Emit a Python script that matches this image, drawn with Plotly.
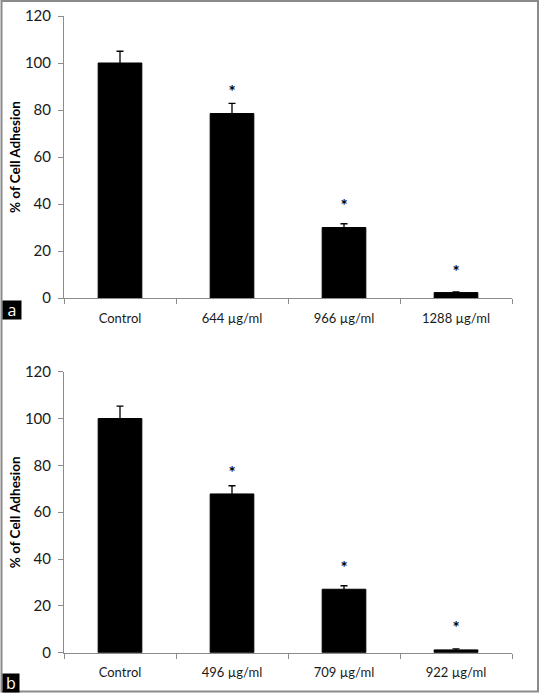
import plotly.graph_objects as go

# ---- data ----
cats_a = ["Control", "644 µg/ml", "966 µg/ml", "1288 µg/ml"]
vals_a = [100.0, 78.5, 30.0, 2.3]
err_a = [5.0, 4.3, 1.6, 0.3]
star_a = [None, 87.0, 38.3, 10.5]

cats_b = ["Control", "496 µg/ml", "709 µg/ml", "922 µg/ml"]
vals_b = [100.0, 67.8, 27.1, 1.2]
err_b = [5.3, 3.5, 1.5, 0.4]
star_b = [None, 76.2, 35.4, 9.7]

y_ticks = [0, 20, 40, 60, 80, 100, 120]
y_title = "% of Cell Adhesion"

W, H = 540, 693
FONT = "Lato, 'Open Sans', sans-serif"
AXIS_GRAY = "#8c8c8c"

fig = go.Figure()

def add_panel(cats, vals, errs, stars, xa, ya):
    fig.add_trace(go.Bar(
        x=cats, y=vals, width=0.39,
        marker=dict(color="black", line=dict(color="black", width=1)),
        error_y=dict(type="data", array=errs, symmetric=True,
                     color="black", thickness=1.3, width=3.5),
        xaxis=xa, yaxis=ya, showlegend=False, hoverinfo="skip"))
    sx = [c for c, s in zip(cats, stars) if s is not None]
    sy = [s for s in stars if s is not None]
    fig.add_trace(go.Scatter(
        x=sx, y=sy, mode="text", text=["<b>*</b>"] * len(sx),
        textfont=dict(family=FONT, size=17, color="black"),
        textposition="middle center",
        xaxis=xa, yaxis=ya, showlegend=False, hoverinfo="skip"))

add_panel(cats_a, vals_a, err_a, star_a, "x", "y")
add_panel(cats_b, vals_b, err_b, star_b, "x2", "y2")

x_dom = [64 / W, 512 / W]
ya_dom = [(H - 298) / H, (H - 16) / H]
yb_dom = [(H - 652.7) / H, (H - 371.7) / H]

xcommon = dict(domain=x_dom, range=[-0.5, 3.5], showline=True, linecolor=AXIS_GRAY,
               linewidth=1, ticks="outside", tickson="boundaries", ticklen=5,
               tickcolor=AXIS_GRAY, showgrid=False, zeroline=False, ticklabelstandoff=8,
               tickfont=dict(family=FONT, size=13, color="#1a1a1a"), automargin=False)
ycommon = dict(range=[0, 120], tickvals=y_ticks, showline=True, linecolor=AXIS_GRAY,
               linewidth=1, ticks="outside", ticklen=5, tickcolor=AXIS_GRAY,
               showgrid=False, zeroline=False, ticklabelstandoff=4, automargin=False,
               tickfont=dict(family=FONT, size=15, color="#1a1a1a"))

fig.update_layout(
    width=W, height=H, margin=dict(l=0, r=0, t=0, b=0, autoexpand=False),
    paper_bgcolor="white", plot_bgcolor="white",
    xaxis=dict(anchor="y", **xcommon),
    yaxis=dict(domain=ya_dom, anchor="x", **ycommon),
    xaxis2=dict(anchor="y2", **xcommon),
    yaxis2=dict(domain=yb_dom, anchor="x2", **ycommon),
    bargap=0.6,
)

for dom in (ya_dom, yb_dom):
    fig.add_annotation(x=15 / W, y=(dom[0] + dom[1]) / 2, xref="paper", yref="paper",
                       text="<b>" + y_title + "</b>", textangle=-90, showarrow=False,
                       font=dict(family=FONT, size=13.5, color="black"),
                       xanchor="center", yanchor="middle")

# panel letters
for letter, ytop, w in (("a", 300, 18), ("b", 673, 16)):
    fig.add_annotation(x=2 / W, y=(H - ytop) / H, xref="paper", yref="paper",
                       text=letter, showarrow=False, xanchor="left", yanchor="top",
                       font=dict(family="'Open Sans', sans-serif", size=16, color="white"),
                       bgcolor="black", borderpad=0, width=w, height=18)

# outer border
fig.add_shape(type="rect", xref="paper", yref="paper", x0=1.5 / W, x1=538 / W,
              y0=(H - 691.5) / H, y1=(H - 1) / H, line=dict(color="#8a8a8a", width=2))

fig.write_html("out.html", config={"displayModeBar": False},
               post_script="document.body.style.margin='0';")
